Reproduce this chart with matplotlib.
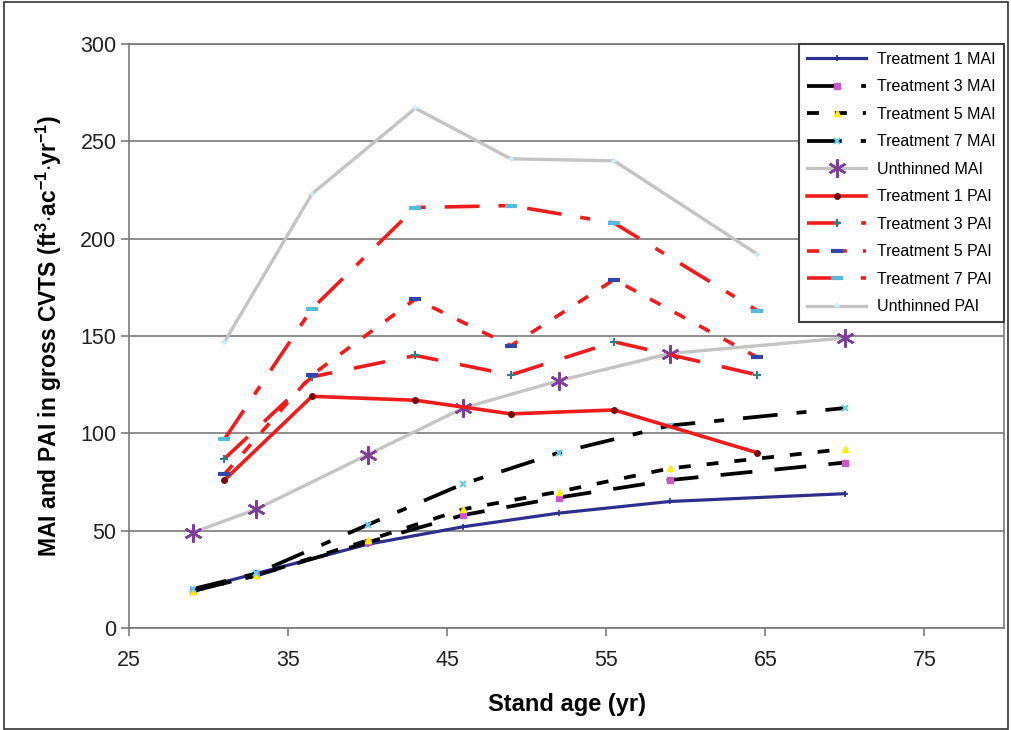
import matplotlib
matplotlib.use("Agg")
import matplotlib.pyplot as plt
from matplotlib.patches import Rectangle

plt.rcParams['font.family'] = ['Liberation Sans', 'DejaVu Sans']
plt.rcParams['mathtext.fontset'] = 'custom'
plt.rcParams['mathtext.rm'] = 'Liberation Sans'
plt.rcParams['mathtext.bf'] = 'Liberation Sans:bold'
plt.rcParams['lines.scale_dashes'] = False

# ---- data ----
mai_age = [29, 33, 40, 46, 52, 59, 70]
pai_age = [31, 36.5, 43, 49, 55.5, 64.5]

t1_mai = [19.5, 28, 43, 52, 59, 65, 69]
t3_mai = [19, 27, 44, 58, 67, 76, 85]
t5_mai = [19, 27, 45, 61, 70, 82, 92]
t7_mai = [20, 28, 53, 74, 90, 104, 113]
un_mai = [49, 61, 89, 113, 127, 141, 149]

t1_pai = [76, 119, 117, 110, 112, 90]
t3_pai = [87, 129, 140, 130, 147, 130]
t5_pai = [79, 130, 169, 145, 179, 139]
t7_pai = [97, 164, 216, 217, 208, 163]
un_pai = [147, 223, 267, 241, 240, 192]

labels = ['Treatment 1 MAI', 'Treatment 3 MAI', 'Treatment 5 MAI', 'Treatment 7 MAI',
          'Unthinned MAI', 'Treatment 1 PAI', 'Treatment 3 PAI', 'Treatment 5 PAI',
          'Treatment 7 PAI', 'Unthinned PAI']
x_ticks = [25, 35, 45, 55, 65, 75]
y_ticks = [0, 50, 100, 150, 200, 250, 300]

# ---- styles ----
RED = '#f01c1c'
GRAY = '#c4c4c4'
NAVY = '#2e2f8c'
LONG = (0, (23, 16))
LDS = (0, (25, 13.7, 7.2, 13.7))
SHORT = (0, (8.6, 11.5))

fig = plt.figure(figsize=(10.11, 7.30), dpi=100)
ax = fig.add_axes([129/1011, 1 - 628/730, (1004-129)/1011, (628-44)/730])

ax.set_xlim(25, 80)
ax.set_ylim(0, 300)
ax.set_yticks(y_ticks)
ax.set_xticks(x_ticks)
ax.grid(axis='y', color='#7a7a7a', lw=1.2, zorder=0)
ax.set_axisbelow(True)
for s in ax.spines.values():
    s.set_color('#7a7a7a')
    s.set_linewidth(1.2)
ax.tick_params(axis='both', direction='out', length=6, width=1.2, color='#7a7a7a',
               labelsize=15.5, labelcolor='#222222')
ax.tick_params(axis='x', pad=10)
ax.tick_params(axis='y', pad=3)

series = [
    (mai_age, t1_mai, dict(color=NAVY, lw=2.3, ls='-', marker='+', ms=5, mec=NAVY, mew=1.2)),
    (mai_age, t3_mai, dict(color='black', lw=2.7, ls=LONG, marker='s', ms=5, mfc='#cc55cc', mec='#cc55cc')),
    (mai_age, t5_mai, dict(color='black', lw=2.7, ls=SHORT, marker='^', ms=5, mfc='#ffee00', mec='#ffee00')),
    (mai_age, t7_mai, dict(color='black', lw=2.7, ls=LDS, marker='x', ms=5, mec='#66ccee', mew=1.5)),
    (mai_age, un_mai, dict(color=GRAY, lw=2.4, ls='-', marker=(6, 2, 0), ms=13, mec='#7f3f98', mew=1.8)),
    (pai_age, t1_pai, dict(color=RED, lw=2.6, ls='-', marker='o', ms=4, mfc='#7a0a0a', mec='#7a0a0a')),
    (pai_age, t3_pai, dict(color=RED, lw=2.6, ls=LONG, marker='+', ms=6, mec='#2f7f7f', mew=1.5)),
    (pai_age, t5_pai, dict(color=RED, lw=2.6, ls=SHORT, marker='_', ms=9, mec='#3344aa', mew=3)),
    (pai_age, t7_pai, dict(color=RED, lw=2.6, ls=LDS, marker='_', ms=9, mec='#55bbdd', mew=3)),
    (pai_age, un_pai, dict(color=GRAY, lw=2.4, ls='-', marker='+', ms=5, mec='#cceeff', mew=1.2)),
]
for (x, y, kw), lab in zip(series, labels):
    ax.plot(x, y, label=lab, zorder=3, **kw)

leg = ax.legend(loc='upper right', bbox_to_anchor=(1, 1), borderaxespad=0,
                fontsize=11.5, frameon=True, fancybox=False, framealpha=1,
                edgecolor='#404040', handlelength=3.7, handletextpad=0.7,
                labelspacing=0.78, borderpad=0.5, numpoints=1)
leg.get_frame().set_linewidth(1.5)
leg.set_zorder(5)

ax.set_xlabel('Stand age (yr)', fontsize=17, fontweight='bold', labelpad=16)
ax.set_ylabel(r'MAI and PAI in gross CVTS (ft$^{\mathbf{3}}$$\cdot$ac$^{\mathbf{-1}}$$\cdot$yr$^{\mathbf{-1}}$)',
              fontsize=16.5, fontweight='bold', labelpad=12)

fig.patches.append(Rectangle((4/1011, 1/730), 1004/1011, 727/730, transform=fig.transFigure,
                             fill=False, edgecolor='#333333', lw=1.2))

fig.savefig('out.png', dpi=100)
